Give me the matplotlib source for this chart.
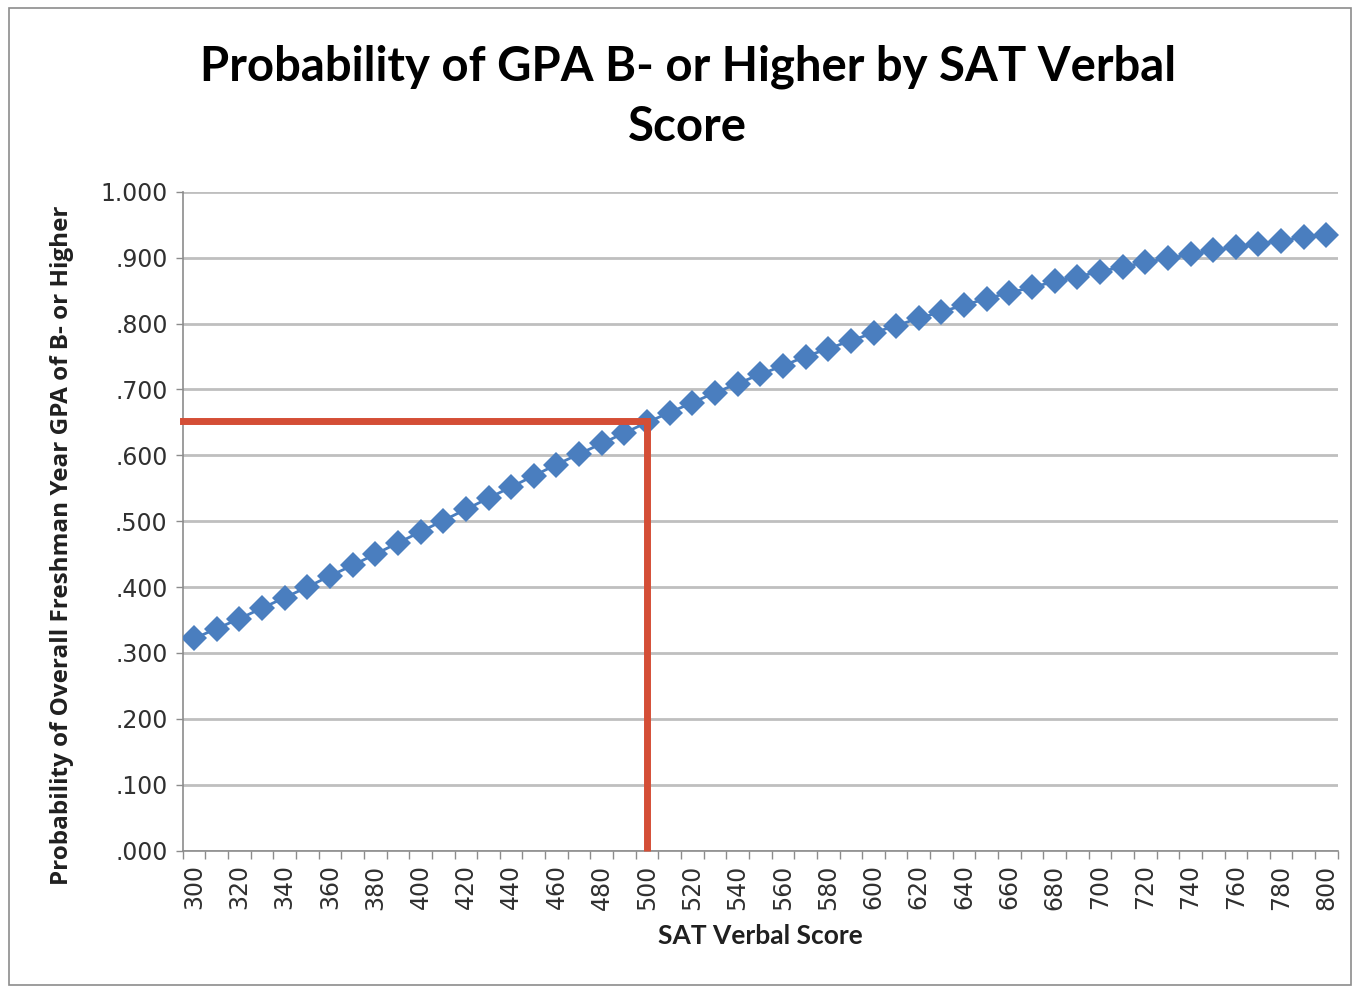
import matplotlib.pyplot as plt
import matplotlib.patches as patches
import numpy as np

plt.rcParams['font.family'] = ['Lato', 'DejaVu Sans']

# SAT verbal scores (category axis) and probability of B- or higher
sat_scores = list(range(300, 801, 10))
probabilities = [
    0.322, 0.337, 0.352, 0.368, 0.384, 0.400, 0.417, 0.433, 0.450, 0.467,
    0.484, 0.501, 0.518, 0.535, 0.552, 0.569, 0.586, 0.602, 0.618, 0.634,
    0.650, 0.665, 0.680, 0.695, 0.709, 0.723, 0.736, 0.750, 0.762, 0.774,
    0.786, 0.797, 0.808, 0.818, 0.828, 0.838, 0.847, 0.855, 0.864, 0.871,
    0.879, 0.886, 0.893, 0.899, 0.905, 0.911, 0.916, 0.921, 0.926, 0.931,
    0.935,
]
y_ticks = [0.0, 0.1, 0.2, 0.3, 0.4, 0.5, 0.6, 0.7, 0.8, 0.9, 1.0]
y_tick_labels = ['.000', '.100', '.200', '.300', '.400', '.500',
                 '.600', '.700', '.800', '.900', '1.000']

# reference point marked with the red lines
highlight_score = 500
highlight_prob = 0.652

fig = plt.figure(figsize=(13.54, 9.89), dpi=100)
ax = fig.add_axes([0.135, 0.140, 0.853, 0.666])

# outer chart border
fig.patches.append(patches.Rectangle((0.007, 0.004), 0.991, 0.988,
                                     transform=fig.transFigure, fill=False,
                                     edgecolor='#8c8c8c', linewidth=1.2))

x = np.arange(len(sat_scores))
ax.plot(x, probabilities, color='#4A7EBF', linewidth=2, marker='D',
        markersize=13, markeredgewidth=0, zorder=3)

# red guide lines
hx = sat_scores.index(highlight_score)
ax.plot([-0.5, hx], [highlight_prob, highlight_prob], color='#D44E36',
        linewidth=5, solid_capstyle='projecting', zorder=4, clip_on=False)
ax.plot([hx, hx], [0, highlight_prob], color='#D44E36',
        linewidth=5, solid_capstyle='butt', zorder=4, clip_on=False)

ax.set_xlim(-0.5, len(sat_scores) - 0.5)
ax.set_ylim(0, 1.0)

tick_font = dict(family='DejaVu Sans', size=17, color='#303030')
ax.set_yticks(y_ticks)
ax.set_yticklabels(y_tick_labels, fontdict=tick_font)
ax.yaxis.grid(True, color='#BFBFBF', linewidth=2)
ax.set_axisbelow(True)

# tick marks between categories, labels every other category
ax.set_xticks(np.arange(-0.5, len(sat_scores), 1))
ax.set_xticklabels([])
label_idx = x[::2]
ax.set_xticks(label_idx, minor=True)
ax.set_xticklabels([str(sat_scores[i]) for i in label_idx], minor=True,
                   rotation=90, fontdict=tick_font)
ax.tick_params(axis='x', which='major', length=6, color='#8c8c8c', width=1)
ax.tick_params(axis='x', which='minor', length=0, pad=10)
ax.tick_params(axis='y', length=5, color='#8c8c8c', width=1, pad=6)

for side in ['top', 'right']:
    ax.spines[side].set_visible(False)
for side in ['left', 'bottom']:
    ax.spines[side].set_color('#8c8c8c')
    ax.spines[side].set_linewidth(1.2)

ax.set_xlabel('SAT Verbal Score', fontsize=19, fontweight='bold', labelpad=10,
              color='#202020')
ax.set_ylabel('Probability of Overall Freshman Year GPA of B- or Higher',
              family='Open Sans', fontsize=17.5, fontweight='bold',
              color='#202020')
ax.yaxis.set_label_coords(-0.094, 0.463)

fig.text(0.508, 0.902, 'Probability of GPA B- or Higher by SAT Verbal\nScore',
         ha='center', va='center', fontsize=34, fontweight='bold',
         linespacing=1.45)

fig.savefig('out.png', dpi=100)
